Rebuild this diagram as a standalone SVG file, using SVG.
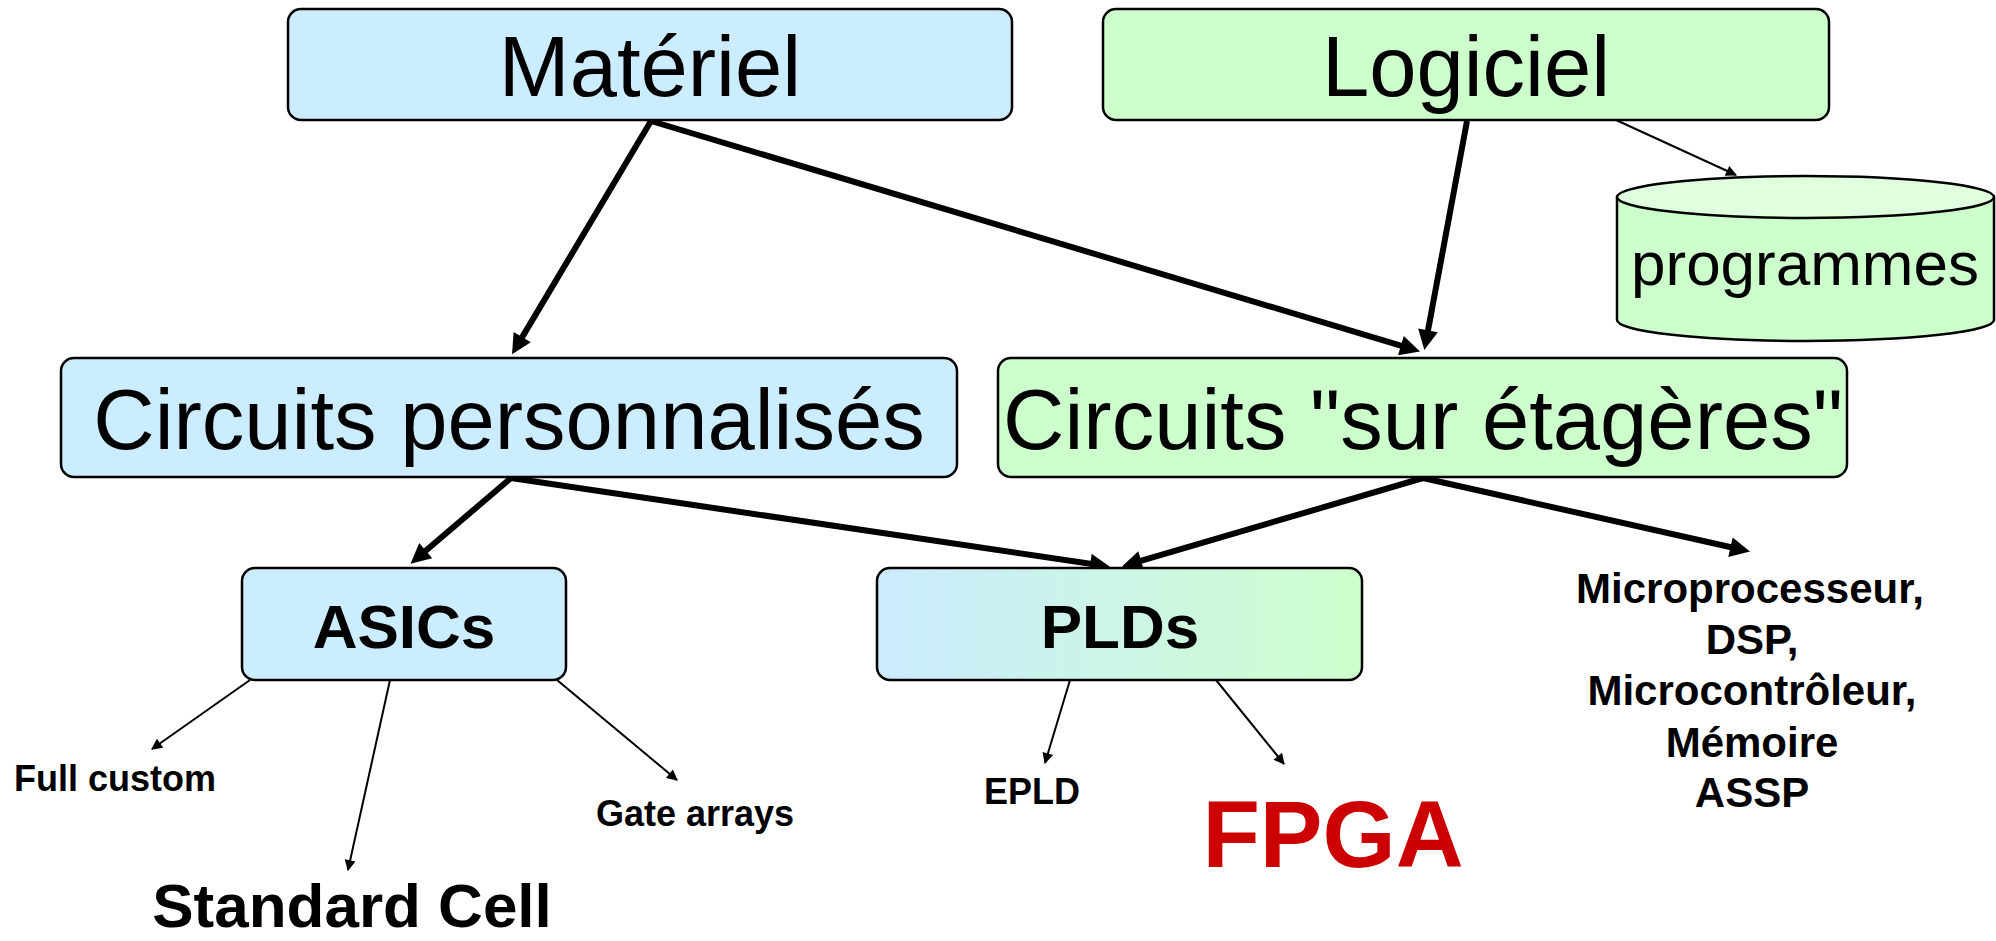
<svg xmlns="http://www.w3.org/2000/svg" width="1996" height="941" viewBox="0 0 1996 941">
<defs>
<style>
.box{stroke:#000;stroke-width:2.5}
.blue{fill:#CCECFF}
.green{fill:#CCFFCC}
.big{font-family:"Liberation Sans",Arial,sans-serif;font-size:85px;fill:#000;text-anchor:middle}
.mid{font-family:"Liberation Sans",Arial,sans-serif;font-size:62px;font-weight:bold;fill:#000;text-anchor:middle}
.sm{font-family:"Liberation Sans",Arial,sans-serif;font-size:36px;font-weight:bold;fill:#000;text-anchor:middle}
.lst{font-family:"Liberation Sans",Arial,sans-serif;font-size:42px;font-weight:bold;fill:#000;text-anchor:middle}
.thick{stroke:#000;stroke-width:6;fill:none;marker-end:url(#ah)}
.thin{stroke:#000;stroke-width:2;fill:none;marker-end:url(#as)}
</style>
<marker id="ah" viewBox="0 0 10 10" refX="6" refY="5" markerWidth="26" markerHeight="20" markerUnits="userSpaceOnUse" orient="auto">
<path d="M0,0 L10,5 L0,10 z" fill="#000"/>
</marker>
<marker id="as" viewBox="0 0 10 10" refX="9" refY="5" markerWidth="17" markerHeight="11" markerUnits="userSpaceOnUse" orient="auto">
<path d="M0,0 L10,5 L0,10 z" fill="#000"/>
</marker>
<linearGradient id="pldg" x1="0" y1="0" x2="1" y2="0">
<stop offset="0" stop-color="#CCEBFF"/>
<stop offset="1" stop-color="#CCFFCC"/>
</linearGradient>
</defs>
<rect width="1996" height="941" fill="#fff"/>
<g id="connectors">
<path class="thick" d="M651,121 L516.1,347.4"/>
<path class="thick" d="M651,121 L1412.4,349.1"/>
<path class="thick" d="M1467,121 L1425.8,342.2"/>
<path class="thin" d="M1616,120 L1736,175"/>
<path class="thick" d="M511,478 L416.6,558.5"/>
<path class="thick" d="M511,478 L1102.1,565.5"/>
<path class="thick" d="M1423,478 L1129.6,564.2"/>
<path class="thick" d="M1423,478 L1742.2,549.8"/>
<path class="thin" d="M250,680 L152,749"/>
<path class="thin" d="M390,680 L348,870"/>
<path class="thin" d="M557,680 L677,780"/>
<path class="thin" d="M1070,680 L1045,763"/>
<path class="thin" d="M1216,680 L1284,764"/>
</g>
<g id="materiel">
<rect class="box blue" x="288" y="9" width="724" height="111" rx="13"/>
<text class="big" x="650" y="96">Matériel</text>
</g>
<g id="logiciel">
<rect class="box green" x="1103" y="9" width="726" height="111" rx="13"/>
<text class="big" x="1466" y="96">Logiciel</text>
</g>
<g id="programmes">
<path class="box green" d="M1617,197 L1617,320 A188.5,21 0 0 0 1994,320 L1994,197"/>
<ellipse class="box" cx="1805.5" cy="197" rx="188.5" ry="21" fill="#DFFFDF"/>
<text class="big" style="font-size:62px" x="1805" y="285">programmes</text>
</g>
<g id="circuits-perso">
<rect class="box blue" x="61" y="358" width="896" height="119" rx="13"/>
<text class="big" x="509" y="449">Circuits personnalisés</text>
</g>
<g id="circuits-etageres">
<rect class="box green" x="998" y="358" width="849" height="119" rx="13"/>
<text class="big" x="1423" y="449">Circuits "sur étagères"</text>
</g>
<g id="asics">
<rect class="box blue" x="242" y="568" width="324" height="112" rx="13"/>
<text class="mid" x="404" y="648">ASICs</text>
</g>
<g id="plds">
<rect class="box" fill="url(#pldg)" x="877" y="568" width="485" height="112" rx="13"/>
<text class="mid" x="1120" y="648">PLDs</text>
</g>
<g id="full-custom"><text class="sm" x="115" y="791">Full custom</text></g>
<g id="standard-cell"><text class="mid" style="font-size:62px" x="352" y="927">Standard Cell</text></g>
<g id="gate-arrays"><text class="sm" x="695" y="826">Gate arrays</text></g>
<g id="epld"><text class="sm" x="1032" y="804">EPLD</text></g>
<g id="fpga"><text class="mid" style="font-size:94px;fill:#CC0000" x="1333" y="867">FPGA</text></g>
<g id="circuits-list">
<text class="lst" x="1750" y="603">Microprocesseur,</text>
<text class="lst" x="1752" y="654">DSP,</text>
<text class="lst" x="1752" y="705">Microcontrôleur,</text>
<text class="lst" x="1752" y="757">Mémoire</text>
<text class="lst" x="1752" y="807">ASSP</text>
</g>
</svg>
